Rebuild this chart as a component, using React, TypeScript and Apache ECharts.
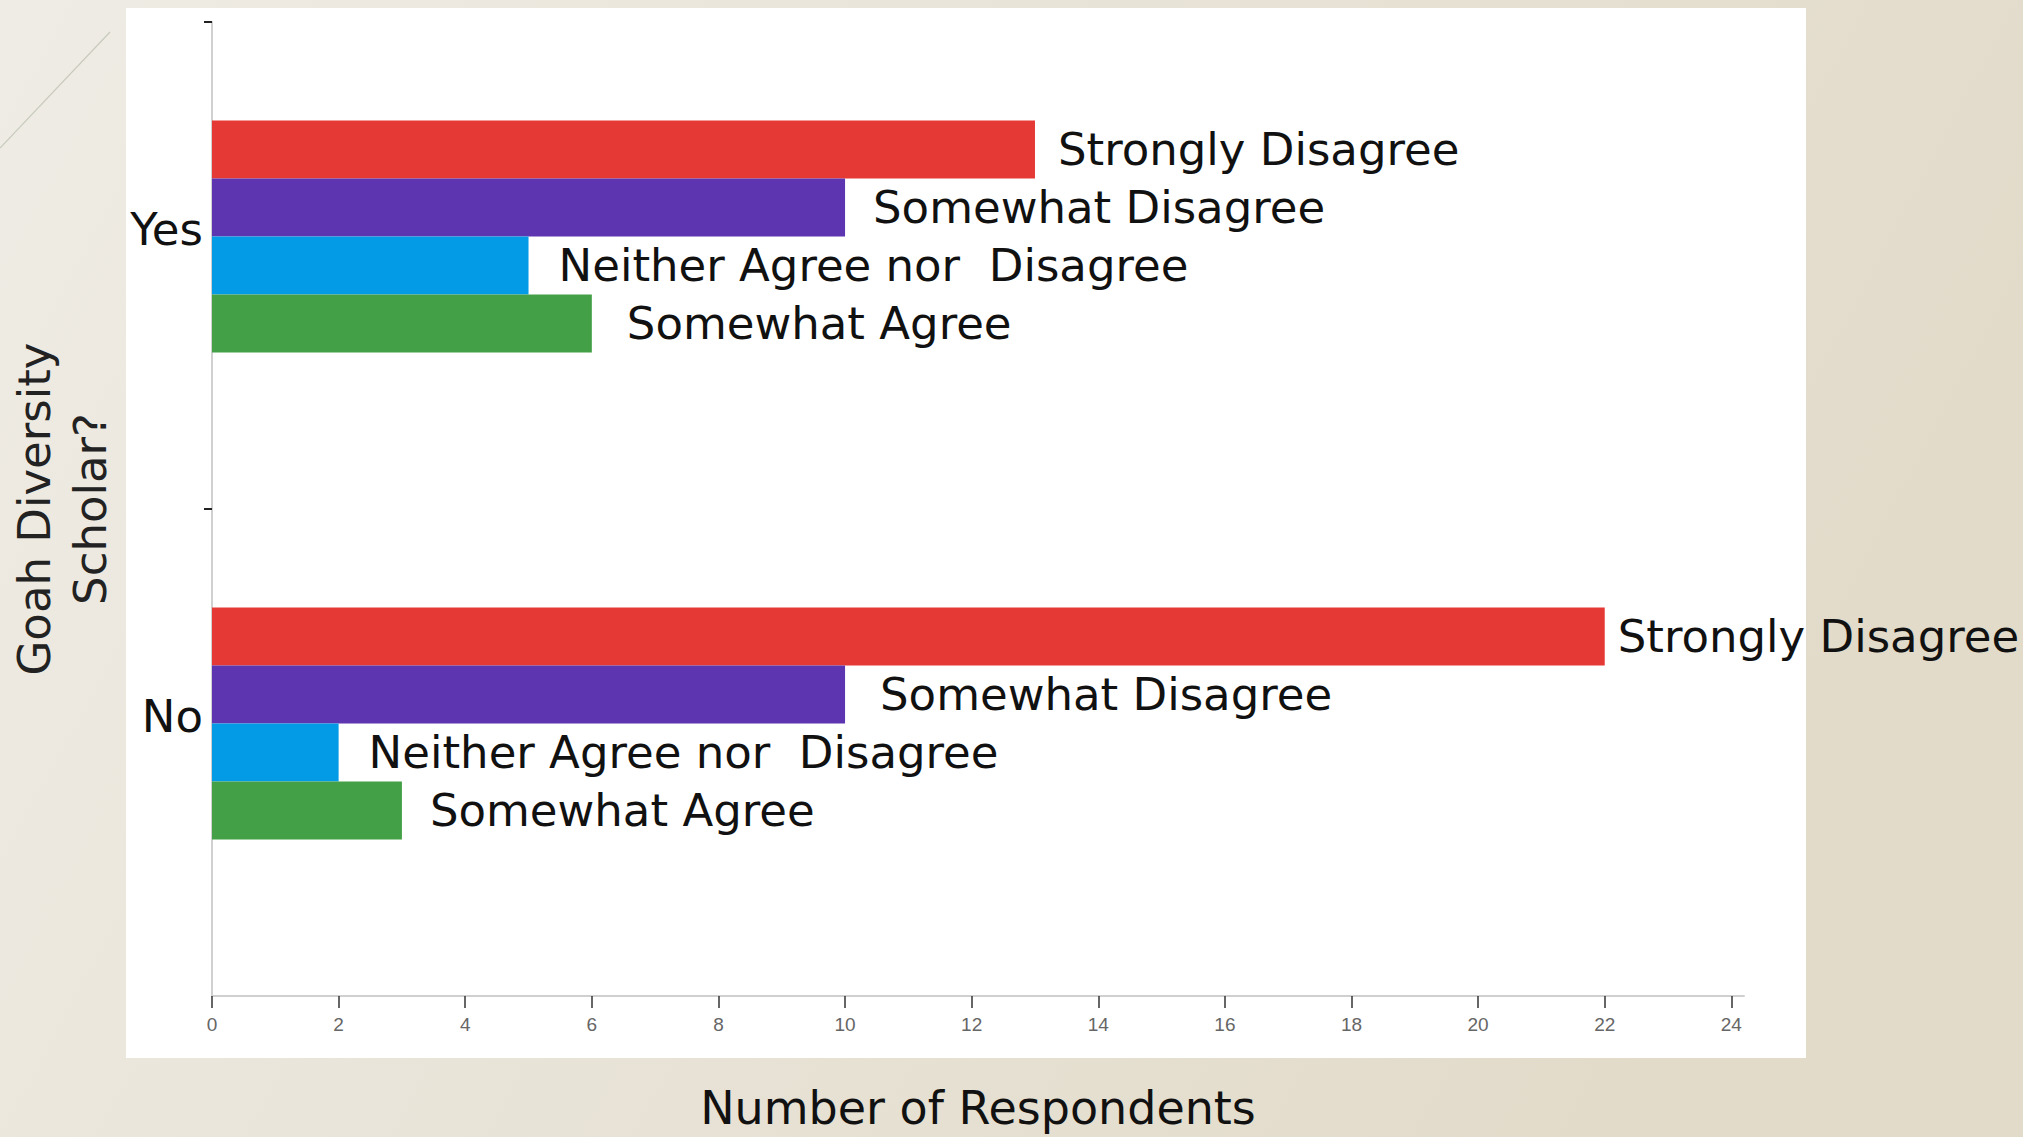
import React, { useEffect, useRef } from "react";
import * as echarts from "echarts";

const categories = ["Yes", "No"];
const seriesNames = [
  "Strongly Disagree",
  "Somewhat Disagree",
  "Neither Agree nor  Disagree",
  "Somewhat Agree",
  "Strongly Agree",
];
const stronglyDisagree = [13, 22];
const somewhatDisagree = [10, 10];
const neither = [5, 2];
const somewhatAgree = [6, 3];
const stronglyAgree = [0, 0];
const seriesValues = [stronglyDisagree, somewhatDisagree, neither, somewhatAgree, stronglyAgree];
const seriesColors = ["#E53935", "#5E35B1", "#039BE5", "#43A047", "#FB8C00"];
const xTicks = [0, 2, 4, 6, 8, 10, 12, 14, 16, 18, 20, 22, 24];
// band-boundary ticks on the category axis (top and middle only)
const bandTicks = [1, 2];
// per-label gap from bar end (style), [Yes, No] for each series
const labelGaps = [
  [23, 13],
  [28, 35],
  [30, 30],
  [35, 28],
  [0, 0],
];

const FONT = "'DejaVu Sans', 'Open Sans', sans-serif";

export default function App() {
  const ref = useRef<HTMLDivElement>(null);
  useEffect(() => {
    if (!ref.current) return;
    const chart = echarts.init(ref.current, null, { renderer: "svg" });
    const W = ref.current.clientWidth;
    const H = ref.current.clientHeight;
    chart.setOption({
      animation: false,
      backgroundColor: {
        type: "linear",
        x: 0,
        y: 0,
        x2: 1,
        y2: 0.3,
        colorStops: [
          { offset: 0, color: "#efece5" },
          { offset: 1, color: "#e2dbca" },
        ],
      },
      graphic: [
        {
          type: "rect",
          z: -10,
          shape: { x: 126, y: 8, width: 1680, height: 1050 },
          style: { fill: "#ffffff" },
        },
        {
          type: "line",
          z: -10,
          shape: { x1: 110, y1: 32, x2: 0, y2: 148 },
          style: { stroke: "#c8cabd", lineWidth: 1.2 },
        },
      ],
      grid: {
        left: 212,
        top: 22,
        right: W - 1744,
        bottom: H - 996,
        containLabel: false,
        outerBoundsMode: "none",
      },
      xAxis: {
        type: "value",
        min: 0,
        max: 24.2,
        interval: 2,
        name: "Number of Respondents",
        nameLocation: "middle",
        nameGap: 89,
        nameTextStyle: { fontFamily: FONT, fontSize: 46, color: "#111" },
        axisLine: { show: true, onZero: false, lineStyle: { color: "#d0d0d0", width: 2 } },
        axisTick: {
          show: true,
          customValues: xTicks,
          length: 12,
          lineStyle: { color: "#333", width: 1.5 },
        },
        axisLabel: {
          customValues: xTicks,
          margin: 19,
          fontFamily: "'Liberation Sans Narrow', 'Liberation Sans', sans-serif",
          fontSize: 19,
          color: "#666",
        },
        splitLine: { show: false },
      },
      yAxis: [
        {
          type: "category",
          data: categories,
          inverse: true,
          name: "Goah Diversity\nScholar?",
          nameLocation: "middle",
          nameGap: 94,
          nameRotate: 90,
          nameTextStyle: { fontFamily: FONT, fontSize: 45, color: "#222", lineHeight: 56 },
          axisLine: { show: true, onZero: false, lineStyle: { color: "#d0d0d0", width: 2 } },
          axisTick: { show: false },
          axisLabel: {
            fontFamily: FONT,
            fontSize: 45,
            color: "#111",
            margin: 9,
            lineHeight: 72,
            formatter: (v: string) => v + "\n ",
          },
        },
        {
          type: "value",
          min: 0,
          max: 2,
          position: "left",
          offset: 0,
          axisLine: { show: false, onZero: false },
          axisLabel: { show: false },
          splitLine: { show: false },
          axisTick: {
            show: true,
            customValues: bandTicks,
            length: 8,
            lineStyle: { color: "#222", width: 2 },
          },
        },
      ],
      series: seriesNames.map((name, i) => ({
        name,
        type: "bar",
        yAxisIndex: 0,
        data: seriesValues[i].map((v, j) => ({
          value: v,
          label: { distance: labelGaps[i][j] },
        })),
        barWidth: 58,
        barGap: "0%",
        itemStyle: { color: seriesColors[i] },
        label: {
          show: i < 4,
          position: "right",
          formatter: name,
          fontFamily: FONT,
          fontSize: 45,
          color: "#111",
        },
      })),
    });
    return () => chart.dispose();
  }, []);
  return <div ref={ref} style={{ position: "fixed", left: 0, top: 0, width: "100vw", height: "100vh" }} />;
}
